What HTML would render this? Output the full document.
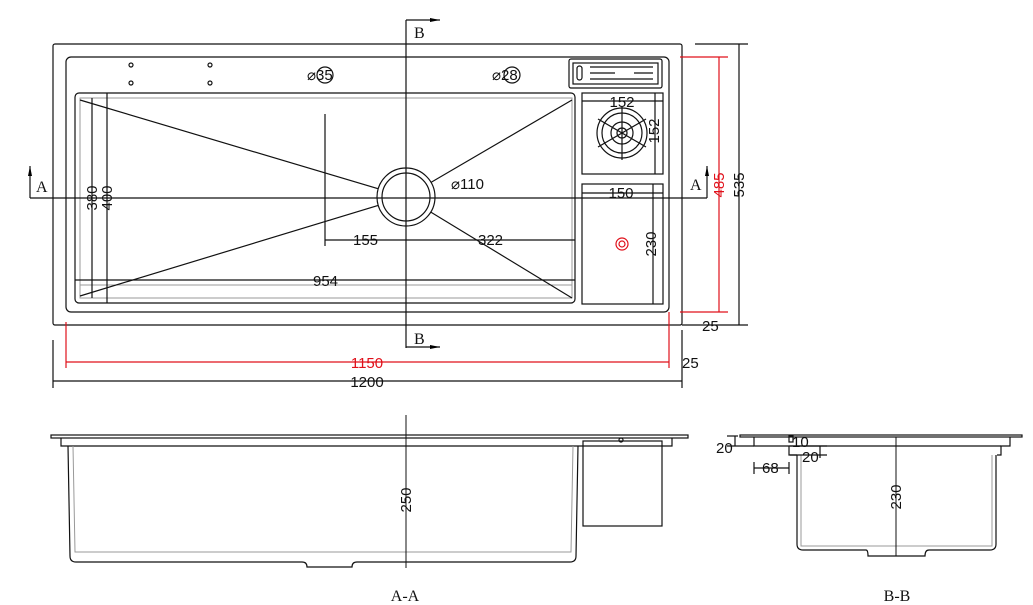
<!DOCTYPE html>
<html><head><meta charset="utf-8"><style>
html,body{margin:0;padding:0;background:#fff;}
svg{display:block;}
text{font-family:"Liberation Sans",sans-serif;font-size:15px;fill:#111;}
.r{fill:#e0101a;}
.s{font-family:"Liberation Serif",serif;font-size:16px;}
</style></head><body>
<svg width="1033" height="605" viewBox="0 0 1033 605" xmlns="http://www.w3.org/2000/svg">
<defs>
<marker id="ar" markerWidth="10" markerHeight="6" refX="10" refY="3" orient="auto" markerUnits="userSpaceOnUse"><path d="M0,1 L10,3 L0,5 Z" fill="#000"/></marker>
</defs>
<g fill="none" stroke="#111" stroke-width="1.2">
<rect x="53" y="44" width="629" height="281" rx="2"/>
<rect x="66" y="57" width="603" height="255" rx="5"/>
<rect x="75" y="93" width="500" height="210" rx="4"/>
<rect x="80" y="98" width="492" height="200" stroke="#999" stroke-width="1"/>
<line x1="80" y1="285" x2="572" y2="285" stroke="#999" stroke-width="1"/>
<path d="M80,100 L406,197 L572,298 M80,296 L406,197 L572,100"/>
<circle cx="406" cy="197" r="29" fill="#fff"/>
<circle cx="406" cy="197" r="24"/>
<line x1="30" y1="198" x2="707" y2="198"/>
<line x1="30" y1="198" x2="30" y2="166" marker-end="url(#ar)"/>
<line x1="707" y1="198" x2="707" y2="166" marker-end="url(#ar)"/>
<line x1="406" y1="20" x2="406" y2="348"/>
<line x1="406" y1="20" x2="440" y2="20" marker-end="url(#ar)"/>
<line x1="406" y1="347" x2="440" y2="347" marker-end="url(#ar)"/>
<line x1="325" y1="114" x2="325" y2="246"/>
<line x1="325" y1="240" x2="575" y2="240"/>
<line x1="75" y1="280" x2="575" y2="280"/>
<line x1="92" y1="98" x2="92" y2="298"/>
<line x1="107" y1="93" x2="107" y2="303"/>
<circle cx="131" cy="65" r="2"/><circle cx="131" cy="83" r="2"/>
<circle cx="210" cy="65" r="2"/><circle cx="210" cy="83" r="2"/>
<circle cx="325" cy="75" r="8"/>
<circle cx="512" cy="75" r="8"/>
<rect x="569" y="59" width="93" height="29" rx="2"/>
<rect x="573" y="63" width="85" height="21"/>
<rect x="577" y="66" width="5" height="14" rx="2.5"/>
<line x1="590" y1="67" x2="653" y2="67"/><line x1="590" y1="73" x2="615" y2="73"/><line x1="634" y1="73" x2="653" y2="73"/><line x1="590" y1="79" x2="653" y2="79"/>
<rect x="582" y="93" width="81" height="81"/>
<line x1="655" y1="93" x2="655" y2="174"/>
<line x1="582" y1="101" x2="663" y2="101"/>
<circle cx="622" cy="133" r="25"/><circle cx="622" cy="133" r="20"/>
<circle cx="622" cy="133" r="11"/><circle cx="622" cy="133" r="5"/>
<line x1="622" y1="106" x2="622" y2="160"/><line x1="598" y1="119" x2="646" y2="147"/><line x1="598" y1="147" x2="646" y2="119"/>
<rect x="582" y="184" width="81" height="120"/>
<line x1="582" y1="193" x2="663" y2="193"/>
<line x1="653" y1="184" x2="653" y2="304"/>
<circle cx="622" cy="244" r="6" stroke="#e0101a"/><circle cx="622" cy="244" r="3" stroke="#e0101a"/>
<line x1="680" y1="57" x2="728" y2="57" stroke="#e0101a"/>
<line x1="680" y1="312" x2="728" y2="312" stroke="#e0101a"/>
<line x1="719" y1="57" x2="719" y2="312" stroke="#e0101a"/>
<line x1="695" y1="44" x2="748" y2="44"/>
<line x1="682" y1="325" x2="748" y2="325"/>
<line x1="739" y1="44" x2="739" y2="325"/>
<line x1="66" y1="322" x2="66" y2="368" stroke="#e0101a"/>
<line x1="669" y1="312" x2="669" y2="368" stroke="#e0101a"/>
<line x1="66" y1="362" x2="669" y2="362" stroke="#e0101a"/>
<line x1="53" y1="340" x2="53" y2="388"/>
<line x1="682" y1="330" x2="682" y2="388"/>
<line x1="53" y1="381" x2="682" y2="381"/>
<rect x="51" y="435" width="637" height="3"/>
<path d="M61,438 V446 H672 V438"/>
<path d="M68,446 L70,556 Q70,562 76,562 H302 Q307,562 307,567 H352 Q352,562 357,562 H570 Q576,562 576,556 L578,446"/>
<path d="M73,446 L75,552 H571 L573,446" stroke="#999" stroke-width="1"/>
<rect x="583" y="441" width="79" height="85"/>
<circle cx="621" cy="440" r="2"/>
<line x1="406" y1="415" x2="406" y2="568" stroke-width="1"/>
<rect x="740" y="435" width="282" height="2"/>
<path d="M754,437 V446 H789 V455 H797"/>
<path d="M1010,437 V446 H1001 V455 H997"/>
<path d="M789,446 H1001" />
<path d="M797,455 V544 Q797,550 803,550 H866 Q868,550 868,556 H925 Q925,550 929,550 H990 Q996,550 996,544 V455"/>
<path d="M801,455 V546 H992 V455" stroke="#999" stroke-width="1"/>
<line x1="896" y1="437" x2="896" y2="556" stroke-width="1"/>
<line x1="727" y1="436" x2="738" y2="436"/><line x1="735" y1="436" x2="735" y2="446"/><line x1="727" y1="446" x2="754" y2="446"/>
<rect x="789" y="436" width="4" height="6"/>
<line x1="790" y1="446" x2="827" y2="446"/><line x1="790" y1="455" x2="827" y2="455"/><line x1="820" y1="446" x2="820" y2="458"/>
<line x1="754" y1="468" x2="789" y2="468"/><line x1="754" y1="462" x2="754" y2="474"/><line x1="789" y1="462" x2="789" y2="474"/>
</g>
<text class="s" x="36" y="192">A</text>
<text class="s" x="690" y="190">A</text>
<text class="s" x="414" y="38">B</text>
<text class="s" x="414" y="344">B</text>
<text x="307" y="80">⌀35</text>
<text x="492" y="80">⌀28</text>
<text x="451" y="189">⌀110</text>
<text x="353" y="245">155</text>
<text x="478" y="245">322</text>
<text x="313" y="286">954</text>
<text transform="translate(97,198) rotate(-90)" text-anchor="middle">380</text>
<text transform="translate(112,198) rotate(-90)" text-anchor="middle">400</text>
<text x="622" y="107" text-anchor="middle">152</text>
<text transform="translate(659,131) rotate(-90)" text-anchor="middle">152</text>
<text x="621" y="198" text-anchor="middle">150</text>
<text transform="translate(656,244) rotate(-90)" text-anchor="middle">230</text>
<text class="r" transform="translate(724,185) rotate(-90)" text-anchor="middle">485</text>
<text transform="translate(744,185) rotate(-90)" text-anchor="middle">535</text>
<text x="702" y="331">25</text>
<text x="682" y="368">25</text>
<text class="r" x="367" y="368" text-anchor="middle">1150</text>
<text x="367" y="387" text-anchor="middle">1200</text>
<text transform="translate(411,500) rotate(-90)" text-anchor="middle">250</text>
<text transform="translate(901,497) rotate(-90)" text-anchor="middle">230</text>
<text x="716" y="453">20</text>
<text x="792" y="447">10</text>
<text x="802" y="462">20</text>
<text x="762" y="473">68</text>
<text class="s" x="405" y="601" text-anchor="middle">A-A</text>
<text class="s" x="897" y="601" text-anchor="middle">B-B</text>
</svg>
</body></html>
